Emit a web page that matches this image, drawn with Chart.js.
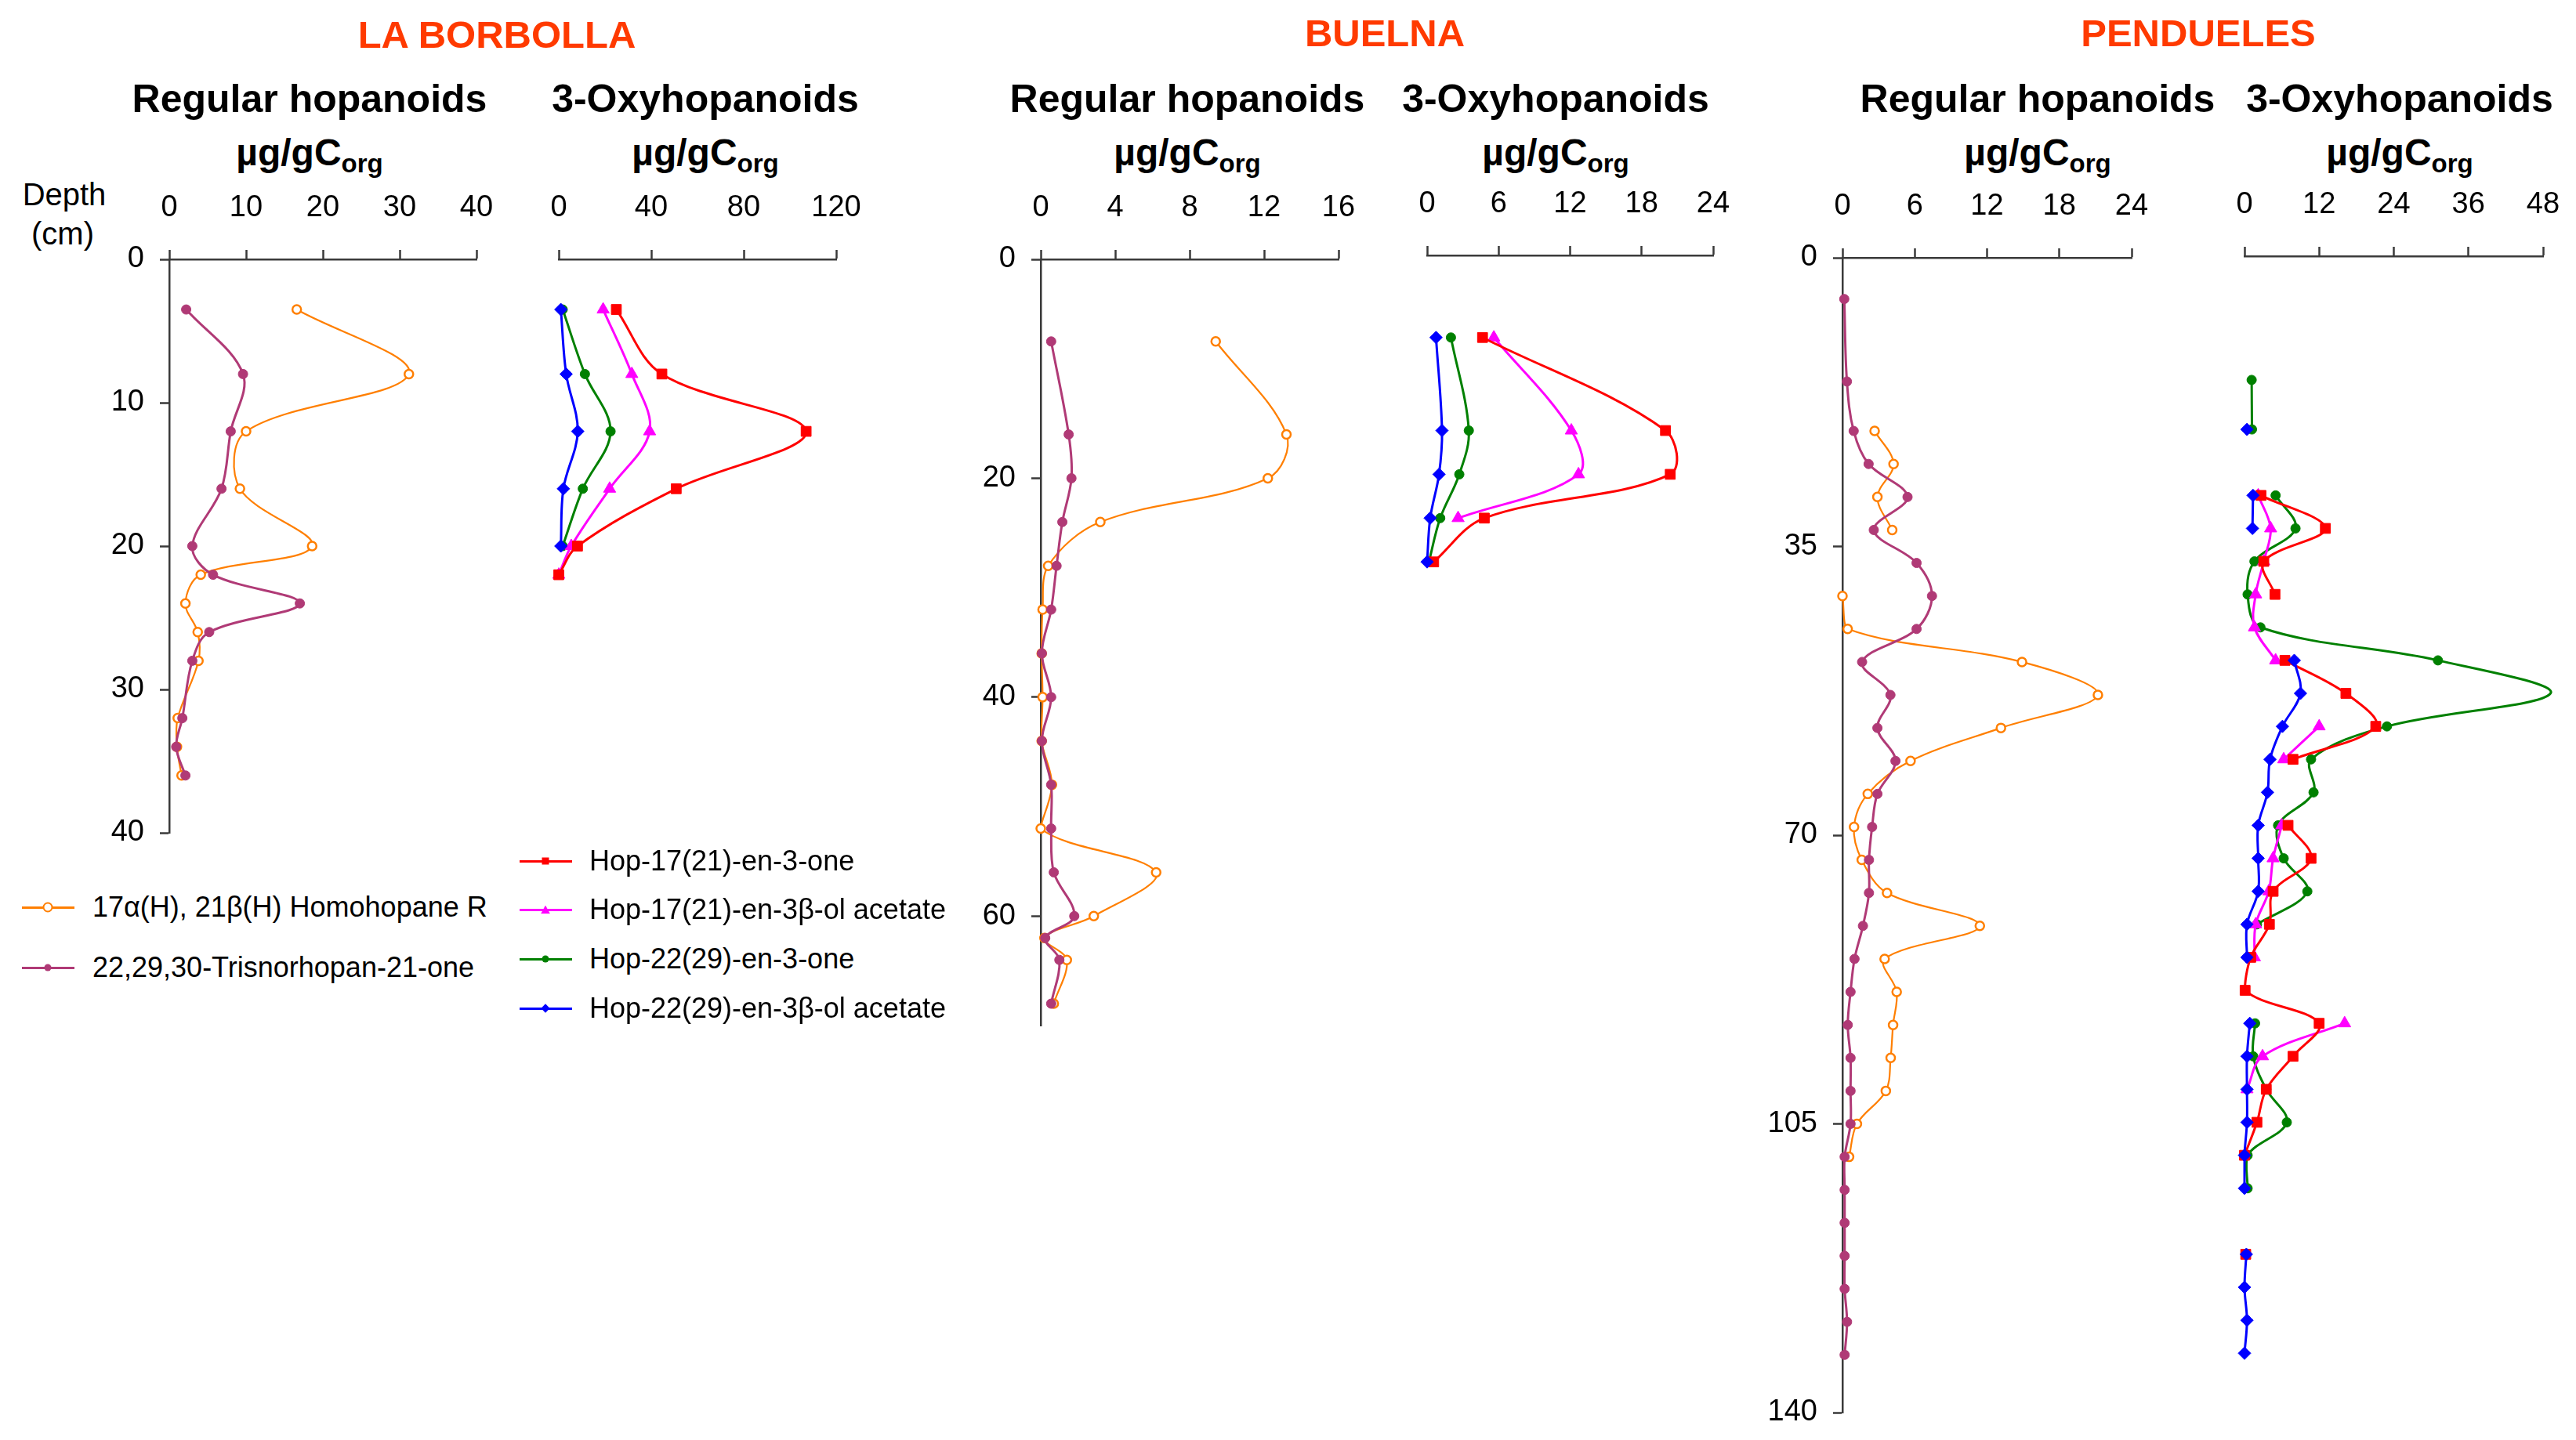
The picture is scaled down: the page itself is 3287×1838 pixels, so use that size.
<!DOCTYPE html>
<html>
<head>
<meta charset="utf-8">
<script src="https://cdn.jsdelivr.net/npm/chart.js@4.4.1/dist/chart.umd.min.js"></script>
<style>
  body { margin: 0; background: #fff; }
  #fig { position: relative; width: 3287px; height: 1838px; overflow: hidden;
         font-family: 'Liberation Sans', Arial, sans-serif; color: #000; }
  #fig canvas { position: absolute; }
  .abs { position: absolute; white-space: nowrap; transform: translate(-50%, -50%); line-height: 1.15; }
  .site { font-weight: bold; font-size: 49px; color: #ff3a00; }
  .sub { font-weight: bold; font-size: 50px; }
  .unit { font-weight: bold; font-size: 48px; }
  .unit sub { font-size: 33px; vertical-align: -9px; }
  .depth { font-size: 40px; }
  .lg-line { position: absolute; height: 3px; }
  .lg-mk { position: absolute; transform: translate(-50%, -50%); }
  .lg-txt { position: absolute; font-size: 36px; line-height: 42px; white-space: nowrap; }
</style>
</head>
<body>
<div id="fig">
  <div class="abs site" style="left:634px;top:44px">LA BORBOLLA</div>
  <div class="abs site" style="left:1767px;top:42px">BUELNA</div>
  <div class="abs site" style="left:2805px;top:42px">PENDUELES</div>

  <div class="abs sub" style="left:395px;top:127px">Regular hopanoids</div>
  <div class="abs unit" style="left:395px;top:197px">µg/gC<sub>org</sub></div>
  <div class="abs sub" style="left:900px;top:127px">3-Oxyhopanoids</div>
  <div class="abs unit" style="left:900px;top:197px">µg/gC<sub>org</sub></div>

  <div class="abs sub" style="left:1515px;top:127px">Regular hopanoids</div>
  <div class="abs unit" style="left:1515px;top:197px">µg/gC<sub>org</sub></div>
  <div class="abs sub" style="left:1985px;top:127px">3-Oxyhopanoids</div>
  <div class="abs unit" style="left:1985px;top:197px">µg/gC<sub>org</sub></div>

  <div class="abs sub" style="left:2600px;top:127px">Regular hopanoids</div>
  <div class="abs unit" style="left:2600px;top:197px">µg/gC<sub>org</sub></div>
  <div class="abs sub" style="left:3062px;top:127px">3-Oxyhopanoids</div>
  <div class="abs unit" style="left:3062px;top:197px">µg/gC<sub>org</sub></div>

  <div class="abs depth" style="left:82px;top:248px">Depth</div>
  <div class="abs depth" style="left:80px;top:298px">(cm)</div>
</div>

<script>
/* ── La Borbolla ── */
const borbollaRegDepth   = [3.5, 8, 12, 16, 20, 22, 24, 26, 28, 32, 34, 36];
const borbollaHomohopane = [16.6, 31.2, 10.0, 9.2, 18.6, 4.1, 2.1, 3.7, 3.8, 1.1, 1.0, 1.6];
const borbollaTrisnor    = [2.2, 9.6, 8.0, 6.8, 3.0, 5.7, 17.0, 5.2, 3.0, 1.7, 0.9, 2.1];
const borbollaOxyDepth   = [3.5, 8, 12, 16, 20, 22];
const borbollaHop17One   = [24.9, 44.6, 107, 50.8, 8.1, 0];
const borbollaHop17Ac    = [19.2, 31.6, 39.3, 22.0, 5.4, 0];
const borbollaHop22One   = [1.7, 11.3, 22.4, 10.4, 1.7, null];
const borbollaHop22Ac    = [0.9, 3.2, 8.2, 2.0, 0.9, null];

/* ── Buelna ── */
const buelnaRegDepth   = [7.5, 16, 20, 24, 28, 32, 36, 40, 44, 48, 52, 56, 60, 62, 64, 68];
const buelnaHomohopane = [9.4, 13.2, 12.2, 3.2, 0.4, 0.1, 0.05, 0.1, 0.05, 0.6, 0, 6.2, 2.85, 0.2, 1.4, 0.7];
const buelnaTrisnor    = [0.56, 1.5, 1.65, 1.16, 0.85, 0.56, 0.06, 0.56, 0.06, 0.56, 0.56, 0.7, 1.8, 0.24, 1.0, 0.56];
const buelnaOxyDepth   = [7.5, 16, 20, 24, 28];
const buelnaHop17One   = [4.65, 20.0, 20.4, 4.8, 0.55];
const buelnaHop17Ac    = [5.6, 12.1, 12.7, 2.6, null];
const buelnaHop22One   = [2.0, 3.5, 2.7, 1.1, 0.15];
const buelnaHop22Ac    = [0.75, 1.25, 1.0, 0.26, 0];

/* ── Pendueles ── */
const penduelesRegDepth = [5, 15, 21, 25, 29, 33, 37, 41, 45, 49, 53, 57, 61, 65, 69, 73,
                           77, 81, 85, 89, 93, 97, 101, 105, 109, 113, 117, 121, 125, 129, 133];
const penduelesHomohopane = [null, null, 2.67, 4.24, 2.9, 4.13, null, 0, 0.43, 14.9, 21.2, 13.15, 5.65, 2.1, 0.96, 1.6,
                             3.7, 11.4, 3.5, 4.5, 4.2, 4.0, 3.6, 1.2, 0.55, null, null, null, null, null, null];
const penduelesTrisnor = [0.15, 0.37, 0.93, 2.17, 5.4, 2.6, 6.15, 7.43, 6.15, 1.63, 3.98, 2.9, 4.4, 2.9, 2.46, 2.2,
                          2.2, 1.7, 1.0, 0.67, 0.44, 0.67, 0.67, 0.67, 0.18, 0.18, 0.18, 0.18, 0.18, 0.38, 0.18];
const penduelesOxyDepth = [15, 21, 25, 29, 33, 37, 41, 45, 49, 53, 57, 61, 65, 69, 73,
                           77, 81, 85, 89, 93, 97, 101, 105, 109, 113, 117, 121, 125, 129, 133];
const penduelesHop17One = [null, null, null, 2.65, 13.0, 3.1, 4.9, null, 6.5, 16.3, 21.1, 7.8, null, 7.0, 10.7,
                           4.6, 4.0, 1.0, 0.1, 12.0, 7.8, 3.5, 2.0, 0, null, null, 0.2, null, null, null];
const penduelesHop17Ac  = [null, null, null, 2.2, 4.2, 3.1, 1.8, 1.6, 5.0, null, 12.0, 6.3, null, 6.0, 4.6,
                           3.9, 1.8, 1.6, null, 16.1, 2.9, 0.4, null, null, null, null, null, null, null, null];
const penduelesHop22One = [1.15, 1.2, null, 5.0, 8.2, 1.6, 0.5, 2.56, 31.1, 49.2, 22.9, 10.7, 11.1, 5.4, 6.3,
                           10.1, 2.0, null, null, 1.7, 1.4, 3.5, 6.8, 0.5, 0.5, null, 0.2, null, null, null];
const penduelesHop22Ac  = [null, 0.4, null, 1.37, 1.28, null, null, null, 8.0, 9.0, 6.1, 4.1, 3.7, 2.2, 2.2,
                           2.2, 0.4, 0.4, null, 0.85, 0.4, 0.4, 0.4, 0, 0, null, 0.3, 0, 0.4, 0];

/* ── tick labels ── */
const borbollaDepthTicks  = [0, 10, 20, 30, 40];
const buelnaDepthTicks    = [0, 20, 40, 60];
const penduelesDepthTicks = [0, 35, 70, 105, 140];
const borbollaRegTicks  = [0, 10, 20, 30, 40];
const borbollaOxyTicks  = [0, 40, 80, 120];
const buelnaRegTicks    = [0, 4, 8, 12, 16];
const buelnaOxyTicks    = [0, 6, 12, 18, 24];
const penduelesRegTicks = [0, 6, 12, 18, 24];
const penduelesOxyTicks = [0, 12, 24, 36, 48];

const seriesNames = {
  homo: '17\u03B1(H), 21\u03B2(H) Homohopane R',
  tris: '22,29,30-Trisnorhopan-21-one',
  h17one: 'Hop-17(21)-en-3-one',
  h17ac: 'Hop-17(21)-en-3\u03B2-ol acetate',
  h22one: 'Hop-22(29)-en-3-one',
  h22ac: 'Hop-22(29)-en-3\u03B2-ol acetate'
};

const STYLE = {
  homo:   { color: '#ff7f00', shape: 'circle',  r: 5.5, open: true,  lw: 2.2 },
  tris:   { color: '#b03a76', shape: 'circle',  r: 6,   open: false, lw: 3 },
  h17one: { color: '#ff0000', shape: 'rect',    r: 9,   open: false, lw: 3 },
  h17ac:  { color: '#ff00ff', shape: 'triangle',r: 9,   open: false, lw: 3 },
  h22one: { color: '#008000', shape: 'circle',  r: 6,   open: false, lw: 3 },
  h22ac:  { color: '#0000ff', shape: 'rectRot', r: 8,   open: false, lw: 3 }
};

const AXIS = '#3a3a3a';
const fig = document.getElementById('fig');
Chart.defaults.font.family = "'Liberation Sans', Arial, sans-serif";
Chart.defaults.color = '#000';

function pts(depths, vals) {
  return depths.map((d, i) => ({ x: vals[i], y: d }));
}

function dataset(key, depths, vals) {
  const s = STYLE[key];
  return {
    label: seriesNames[key],
    data: pts(depths, vals),
    showLine: true,
    tension: 0.35,
    clip: false,
    borderColor: s.color,
    borderWidth: s.lw,
    pointStyle: s.shape,
    pointRadius: s.r,
    pointBackgroundColor: s.open ? '#fff' : s.color,
    pointBorderColor: s.color,
    pointBorderWidth: s.open ? 2.5 : 1
  };
}

/* one chart per panel, chart area pinned to the reference axes */
function panel(spec) {
  const showY = !!spec.yTicks;
  const axW = showY ? 120 : 0, axH = 100;
  const padL = 30, padR = 70, padT = 10, padB = 30;
  const cv = document.createElement('canvas');
  cv.width = spec.x1 - spec.x0 + padL + axW + padR;
  cv.height = spec.y1 - spec.y0 + padT + axH + padB;
  cv.style.left = (spec.x0 - padL - axW) + 'px';
  cv.style.top = (spec.y0 - padT - axH) + 'px';
  fig.appendChild(cv);

  new Chart(cv, {
    type: 'scatter',
    data: { datasets: spec.datasets },
    options: {
      responsive: false,
      devicePixelRatio: 1,
      animation: false,
      layout: { padding: { left: padL, right: padR, top: padT, bottom: padB } },
      plugins: { legend: { display: false }, tooltip: { enabled: false } },
      scales: {
        x: {
          type: 'linear', position: 'top', min: 0, max: spec.xTicks[spec.xTicks.length - 1],
          afterBuildTicks: s => { s.ticks = spec.xTicks.map(v => ({ value: v })); },
          afterFit: s => { s.height = axH; s.paddingLeft = 0; s.paddingRight = 0; },
          grid: { drawOnChartArea: false, tickLength: 12, tickWidth: 2.5, tickColor: AXIS },
          border: { display: true, color: AXIS, width: 2.5 },
          ticks: { padding: 31, font: { size: 38 }, color: '#000', maxRotation: 0, autoSkip: false }
        },
        y: {
          type: 'linear', reverse: true, min: 0, max: spec.yMax, display: showY,
          afterBuildTicks: s => { if (showY) s.ticks = spec.yTicks.map(v => ({ value: v })); },
          afterFit: s => { s.width = axW; s.paddingTop = 0; s.paddingBottom = 0; },
          grid: { drawOnChartArea: false, tickLength: 12, tickWidth: 2.5, tickColor: AXIS },
          border: { display: true, color: AXIS, width: 2.5 },
          ticks: { padding: 20, font: { size: 38 }, color: '#000', autoSkip: false }
        }
      }
    }
  });
}

function oxySets(depths, a, b, c, d) {
  return [
    dataset('h22ac', depths, d),
    dataset('h17one', depths, a),
    dataset('h17ac', depths, b),
    dataset('h22one', depths, c)
  ];
}

panel({ x0: 216, x1: 608, y0: 331, y1: 1063, yMax: 40, xTicks: borbollaRegTicks, yTicks: borbollaDepthTicks,
        datasets: [dataset('tris', borbollaRegDepth, borbollaTrisnor), dataset('homo', borbollaRegDepth, borbollaHomohopane)] });
panel({ x0: 713, x1: 1067, y0: 331, y1: 1063, yMax: 40, xTicks: borbollaOxyTicks,
        datasets: oxySets(borbollaOxyDepth, borbollaHop17One, borbollaHop17Ac, borbollaHop22One, borbollaHop22Ac) });

panel({ x0: 1328, x1: 1708, y0: 331, y1: 1309, yMax: 70, xTicks: buelnaRegTicks, yTicks: buelnaDepthTicks,
        datasets: [dataset('tris', buelnaRegDepth, buelnaTrisnor), dataset('homo', buelnaRegDepth, buelnaHomohopane)] });
panel({ x0: 1821, x1: 2186, y0: 326, y1: 1304, yMax: 70, xTicks: buelnaOxyTicks,
        datasets: oxySets(buelnaOxyDepth, buelnaHop17One, buelnaHop17Ac, buelnaHop22One, buelnaHop22Ac) });

panel({ x0: 2351, x1: 2720, y0: 329, y1: 1803, yMax: 140, xTicks: penduelesRegTicks, yTicks: penduelesDepthTicks,
        datasets: [dataset('tris', penduelesRegDepth, penduelesTrisnor), dataset('homo', penduelesRegDepth, penduelesHomohopane)] });
panel({ x0: 2864, x1: 3245, y0: 327, y1: 1801, yMax: 140, xTicks: penduelesOxyTicks,
        datasets: oxySets(penduelesOxyDepth, penduelesHop17One, penduelesHop17Ac, penduelesHop22One, penduelesHop22Ac) });

/* ── legends (HTML swatches + text) ── */
function legendItem(key, x, y, textX) {
  const s = STYLE[key];
  const line = document.createElement('div');
  line.className = 'lg-line';
  line.style.cssText = `left:${x}px;top:${y - 1.5}px;width:67px;background:${s.color}`;
  fig.appendChild(line);

  const mk = document.createElement('div');
  mk.className = 'lg-mk';
  let css = `left:${x + 33}px;top:${y}px;`;
  if (s.shape === 'circle') {
    css += `width:9px;height:9px;border-radius:50%;` +
           (s.open ? `background:#fff;border:2px solid ${s.color};` : `background:${s.color};`);
  } else if (s.shape === 'rect') {
    css += `width:9px;height:9px;background:${s.color};`;
  } else if (s.shape === 'triangle') {
    css += `width:12px;height:11px;background:${s.color};clip-path:polygon(50% 0,100% 100%,0 100%);`;
  } else {
    css += `width:8px;height:8px;background:${s.color};transform:translate(-50%,-50%) rotate(45deg);`;
  }
  mk.style.cssText = css;
  fig.appendChild(mk);

  const t = document.createElement('div');
  t.className = 'lg-txt';
  t.style.cssText = `left:${textX}px;top:${y - 21}px`;
  t.textContent = seriesNames[key];
  fig.appendChild(t);
}

legendItem('homo', 28, 1158, 118);
legendItem('tris', 28, 1235, 118);
legendItem('h17one', 663, 1099, 752);
legendItem('h17ac', 663, 1161, 752);
legendItem('h22one', 663, 1224, 752);
legendItem('h22ac', 663, 1287, 752);
</script>
</body>
</html>
